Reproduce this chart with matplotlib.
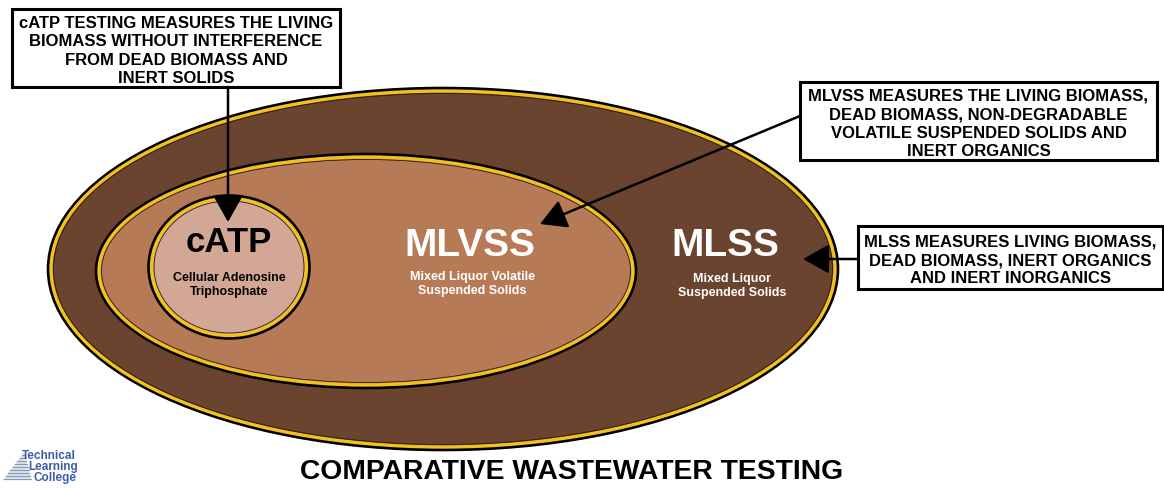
import numpy as np
import matplotlib.pyplot as plt
from matplotlib.patches import Ellipse, Rectangle, Polygon

plt.rcParams['font.family'] = ['Liberation Sans', 'DejaVu Sans']

# labels inside the nested regions
region_names = ['MLSS', 'MLVSS', 'cATP']
region_subs = ['Mixed Liquor\nSuspended Solids',
               'Mixed Liquor Volatile\nSuspended Solids',
               'Cellular Adenosine\nTriphosphate']
region_fill = ['#6b4430', '#b67a57', '#d3a795']
region_text = ['white', 'white', 'black']

# callout boxes
box_text = [
    ['cATP TESTING MEASURES THE LIVING', 'BIOMASS WITHOUT INTERFERENCE',
     'FROM DEAD BIOMASS AND', 'INERT SOLIDS'],
    ['MLVSS MEASURES THE LIVING BIOMASS,', 'DEAD BIOMASS, NON-DEGRADABLE',
     'VOLATILE SUSPENDED SOLIDS AND', 'INERT ORGANICS'],
    ['MLSS MEASURES LIVING BIOMASS,', 'DEAD BIOMASS, INERT ORGANICS',
     'AND INERT INORGANICS'],
]
title = 'COMPARATIVE WASTEWATER TESTING'
logo_lines = ['Technical', 'Learning', 'College']

yellow = '#f2c21c'

fig = plt.figure(figsize=(11.64, 4.89), dpi=100)
ax = fig.add_axes([0, 0, 1, 1])
ax.set_xlim(0, 1164)
ax.set_ylim(489, 0)
ax.axis('off')

# ellipses: centre x, centre y, width, height
ell = [(443, 270, 784, 356), (366, 272, 534, 228), (229, 268, 155, 137)]
for (cx, cy, w, h), fc in zip(ell, region_fill):
    ax.add_patch(Ellipse((cx, cy), w + 5, h + 5, facecolor=fc,
                         edgecolor='black', lw=2.6, zorder=2))
    ax.add_patch(Ellipse((cx, cy), w, h, fill=False,
                         edgecolor=yellow, lw=2.4, zorder=2))
    ax.add_patch(Ellipse((cx, cy), w - 5, h - 5, fill=False,
                         edgecolor='#2a1a10', lw=0.6, zorder=2))

# big labels
name_pos = [(725, 246, 28), (470, 246, 28), (229, 243, 25)]
sub_pos = [(732, 286), (472, 284), (229, 285)]
for i in range(3):
    x, y, fs = name_pos[i]
    ax.text(x, y, region_names[i], color=region_text[i], fontsize=fs,
            fontweight='bold', ha='center', va='center', zorder=4)
    sx, sy = sub_pos[i]
    ax.text(sx, sy, region_subs[i], color=region_text[i], fontsize=9,
            fontweight='bold', ha='center', va='center', linespacing=1.15,
            zorder=4)

# callout boxes: left, top, right, bottom
boxes = [(12, 10, 340, 88), (800, 83, 1157, 161), (858, 227, 1163, 290)]
for (l, t, r, b), lines in zip(boxes, box_text):
    ax.add_patch(Rectangle((l, t), r - l, b - t, facecolor='white',
                           edgecolor='black', lw=2.2, zorder=5))
    ax.text((l + r) / 2, (t + b) / 2 + 2, '\n'.join(lines), fontsize=12,
            fontweight='bold', ha='center', va='center', linespacing=1.28,
            zorder=6)

# arrows: (tip, tail)
arrows = [((228, 223), (228, 88)), ((540, 225), (800, 117)),
          ((803, 260), (858, 260))]
for tip, tail in arrows:
    ax.annotate('', xy=tip, xytext=tail, zorder=7,
                arrowprops=dict(arrowstyle='-|>,head_length=0.8,head_width=0.45',
                                mutation_scale=20, color='black', lw=1.8,
                                shrinkA=0, shrinkB=0))

ax.text(572, 472, title, fontsize=20.3, fontweight='bold', ha='center',
        va='center')

# logo
tri = np.array([[3, 481], [24, 453], [31, 481]])
ax.add_patch(Polygon(tri, closed=True, facecolor='#dfe6ee', edgecolor='none'))
for yy in np.arange(456, 481, 3):
    f = (yy - 453) / 28
    ax.plot([24 - 21 * f, 24 + 7 * f], [yy, yy], color='#8a9bb0', lw=0.9)
logo_x = [22, 28, 33]
logo_y = [456, 467, 478]
for s, lx, ly in zip(logo_lines, logo_x, logo_y):
    ax.text(lx, ly, s, color='#3a5ea6', fontsize=8.5, fontweight='bold',
            ha='left', va='center')

fig.savefig('out.png', dpi=100)
